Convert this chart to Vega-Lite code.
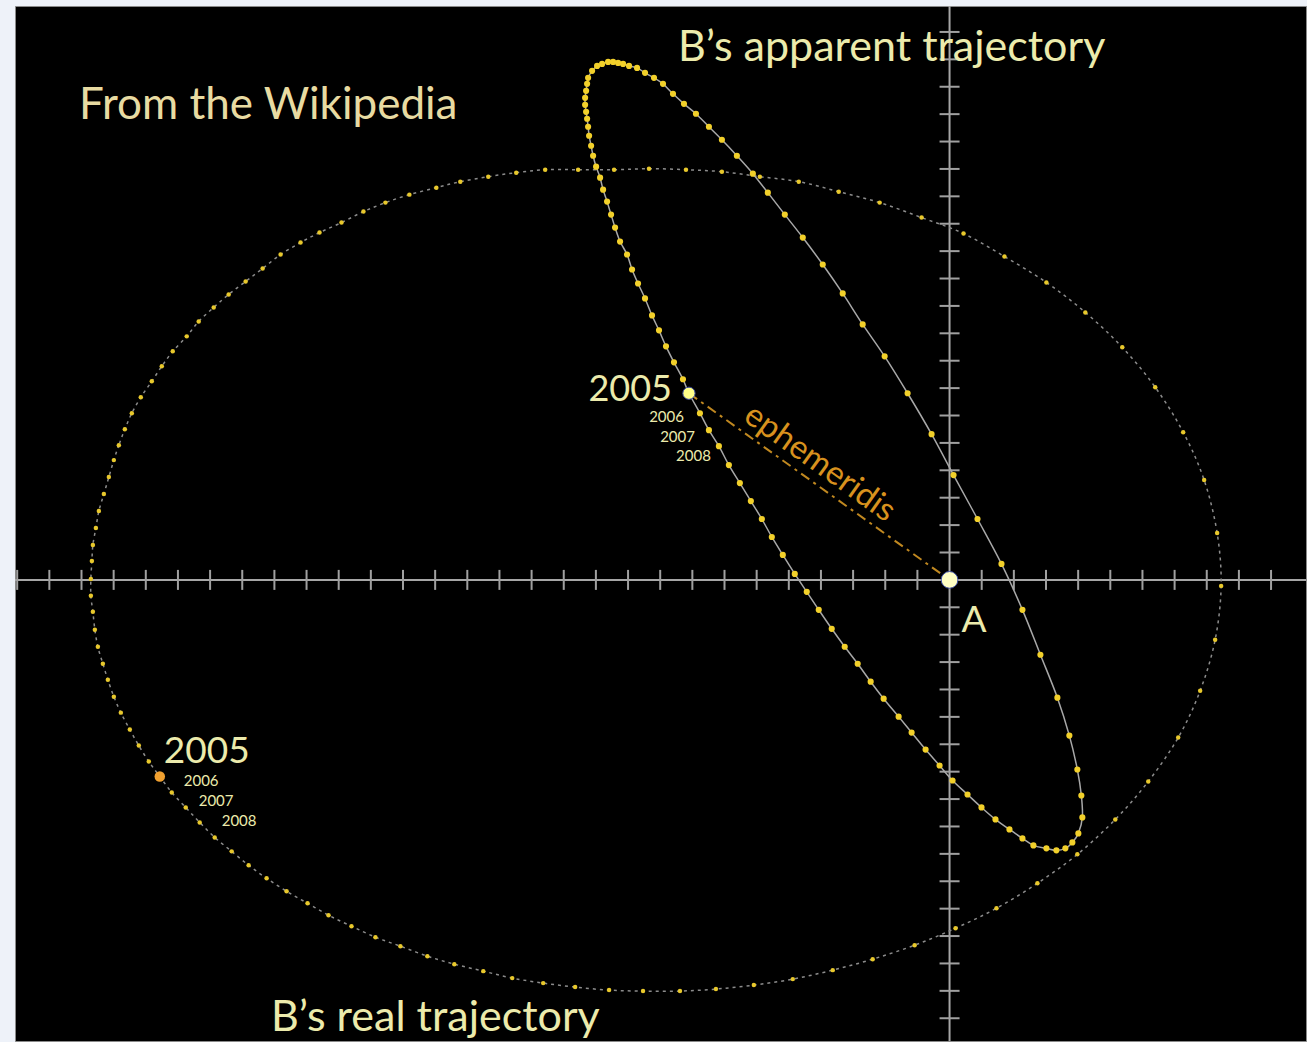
{
  "$schema": "https://vega.github.io/schema/vega-lite/v6.json",
  "width": 1307,
  "height": 1042,
  "autosize": {"type": "fit", "contains": "padding"},
  "padding": {"left": 14, "top": 5, "right": 0, "bottom": 0},
  "background": "#eef2f9",
  "config": {"view": {"fill": "#000000", "stroke": "#8a8a8a", "strokeWidth": 1}},
  "datasets": {
    "real": [
      {"i":1,"x":-826,"y":151},{"i":2,"x":-832,"y":135},{"i":3,"x":-837,"y":120},{"i":4,"x":-842,"y":103},{"i":5,"x":-847,"y":86},
      {"i":6,"x":-852,"y":69},{"i":7,"x":-855,"y":52},{"i":8,"x":-858,"y":35},{"i":9,"x":-859,"y":19},{"i":10,"x":-860,"y":1},
      {"i":11,"x":-860,"y":-16},{"i":12,"x":-858,"y":-32},{"i":13,"x":-856,"y":-50},{"i":14,"x":-853,"y":-67},{"i":15,"x":-848,"y":-84},
      {"i":16,"x":-843,"y":-100},{"i":17,"x":-837,"y":-117},{"i":18,"x":-830,"y":-133},{"i":19,"x":-821,"y":-150},{"i":20,"x":-812,"y":-166},
      {"i":21,"x":-802,"y":-182},{"i":22,"x":-791,"y":-197},{"i":23,"x":-779,"y":-213},{"i":24,"x":-765,"y":-228},{"i":25,"x":-751,"y":-243},
      {"i":26,"x":-736,"y":-258},{"i":27,"x":-719,"y":-272},{"i":28,"x":-702,"y":-286},{"i":29,"x":-684,"y":-299},{"i":30,"x":-664,"y":-312},
      {"i":31,"x":-643,"y":-324},{"i":32,"x":-622,"y":-336},{"i":33,"x":-599,"y":-347},{"i":34,"x":-575,"y":-358},{"i":35,"x":-550,"y":-367},
      {"i":36,"x":-523,"y":-377},{"i":37,"x":-496,"y":-385},{"i":38,"x":-467,"y":-392},{"i":39,"x":-438,"y":-399},{"i":40,"x":-407,"y":-404},
      {"i":41,"x":-375,"y":-408},{"i":42,"x":-341,"y":-411},{"i":43,"x":-307,"y":-412},{"i":44,"x":-270,"y":-412},{"i":45,"x":-234,"y":-410},
      {"i":46,"x":-196,"y":-406},{"i":47,"x":-157,"y":-400},{"i":48,"x":-117,"y":-391},{"i":49,"x":-77,"y":-380},{"i":50,"x":-35,"y":-366},
      {"i":51,"x":6,"y":-349},{"i":52,"x":47,"y":-329},{"i":53,"x":88,"y":-304},{"i":54,"x":128,"y":-275},{"i":55,"x":166,"y":-240},
      {"i":56,"x":199,"y":-202},{"i":57,"x":229,"y":-158},{"i":58,"x":251,"y":-111},{"i":59,"x":266,"y":-60},{"i":60,"x":272,"y":-6},
      {"i":61,"x":268,"y":47},{"i":62,"x":255,"y":100},{"i":63,"x":234,"y":148},{"i":64,"x":206,"y":193},{"i":65,"x":173,"y":233},
      {"i":66,"x":136,"y":268},{"i":67,"x":97,"y":298},{"i":68,"x":55,"y":324},{"i":69,"x":14,"y":347},{"i":70,"x":-28,"y":363},
      {"i":71,"x":-70,"y":378},{"i":72,"x":-111,"y":389},{"i":73,"x":-151,"y":399},{"i":74,"x":-190,"y":404},{"i":75,"x":-228,"y":409},
      {"i":76,"x":-264,"y":411},{"i":77,"x":-301,"y":412},{"i":78,"x":-336,"y":411},{"i":79,"x":-372,"y":411},{"i":80,"x":-405,"y":411},
      {"i":81,"x":-434,"y":408},{"i":82,"x":-462,"y":404},{"i":83,"x":-490,"y":399},{"i":84,"x":-514,"y":393},{"i":85,"x":-541,"y":386},
      {"i":86,"x":-565,"y":378},{"i":87,"x":-587,"y":369},{"i":88,"x":-609,"y":358},{"i":89,"x":-631,"y":348},{"i":90,"x":-650,"y":338},
      {"i":91,"x":-670,"y":326},{"i":92,"x":-688,"y":312},{"i":93,"x":-705,"y":299},{"i":94,"x":-722,"y":286},{"i":95,"x":-737,"y":273},
      {"i":96,"x":-752,"y":259},{"i":97,"x":-764,"y":244},{"i":98,"x":-778,"y":229},{"i":99,"x":-789,"y":214},{"i":100,"x":-799,"y":199},
      {"i":101,"x":-810,"y":183},{"i":102,"x":-819,"y":167}
    ],
    "app": [
      {"i":1,"x":-362,"y":503},{"i":2,"x":-358,"y":510},{"i":3,"x":-353,"y":515},{"i":4,"x":-348,"y":517},{"i":5,"x":-342,"y":519},
      {"i":6,"x":-337,"y":519},{"i":7,"x":-332,"y":518},{"i":8,"x":-327,"y":517},{"i":9,"x":-321,"y":515},{"i":10,"x":-313,"y":513},
      {"i":11,"x":-305,"y":508},{"i":12,"x":-296,"y":503},{"i":13,"x":-287,"y":497},{"i":14,"x":-277,"y":487},{"i":15,"x":-266,"y":477},
      {"i":16,"x":-254,"y":467},{"i":17,"x":-241,"y":454},{"i":18,"x":-228,"y":441},{"i":19,"x":-213,"y":425},{"i":20,"x":-197,"y":407},
      {"i":21,"x":-182,"y":388},{"i":22,"x":-165,"y":366},{"i":23,"x":-147,"y":343},{"i":24,"x":-127,"y":316},{"i":25,"x":-107,"y":287},
      {"i":26,"x":-87,"y":256},{"i":27,"x":-65,"y":224},{"i":28,"x":-42,"y":187},{"i":29,"x":-18,"y":146},{"i":30,"x":4,"y":105},
      {"i":31,"x":28,"y":61},{"i":32,"x":52,"y":16},{"i":33,"x":73,"y":-30},{"i":34,"x":91,"y":-75},{"i":35,"x":108,"y":-118},
      {"i":36,"x":120,"y":-156},{"i":37,"x":128,"y":-190},{"i":38,"x":132,"y":-216},{"i":39,"x":133,"y":-238},{"i":40,"x":129,"y":-254},
      {"i":41,"x":123,"y":-263},{"i":42,"x":116,"y":-269},{"i":43,"x":107,"y":-271},{"i":44,"x":97,"y":-269},{"i":45,"x":84,"y":-266},
      {"i":46,"x":73,"y":-259},{"i":47,"x":60,"y":-250},{"i":48,"x":46,"y":-240},{"i":49,"x":32,"y":-228},{"i":50,"x":18,"y":-215},
      {"i":51,"x":3,"y":-201},{"i":52,"x":-10,"y":-186},{"i":53,"x":-24,"y":-170},{"i":54,"x":-38,"y":-153},{"i":55,"x":-51,"y":-137},
      {"i":56,"x":-66,"y":-119},{"i":57,"x":-79,"y":-102},{"i":58,"x":-92,"y":-84},{"i":59,"x":-105,"y":-67},{"i":60,"x":-118,"y":-49},
      {"i":61,"x":-131,"y":-30},{"i":62,"x":-143,"y":-12},{"i":63,"x":-155,"y":6},{"i":64,"x":-167,"y":25},{"i":65,"x":-178,"y":43},
      {"i":66,"x":-188,"y":61},{"i":67,"x":-199,"y":79},{"i":68,"x":-210,"y":97},{"i":69,"x":-221,"y":115},{"i":70,"x":-231,"y":134},
      {"i":71,"x":-241,"y":150},{"i":72,"x":-250,"y":167},{"i":73,"x":-261,"y":187},{"i":74,"x":-267,"y":201},{"i":75,"x":-276,"y":218},
      {"i":76,"x":-284,"y":234},{"i":77,"x":-291,"y":250},{"i":78,"x":-298,"y":265},{"i":79,"x":-305,"y":282},{"i":80,"x":-312,"y":297},
      {"i":81,"x":-318,"y":311},{"i":82,"x":-323,"y":326},{"i":83,"x":-330,"y":339},{"i":84,"x":-335,"y":353},{"i":85,"x":-339,"y":366},
      {"i":86,"x":-343,"y":379},{"i":87,"x":-347,"y":391},{"i":88,"x":-350,"y":403},{"i":89,"x":-354,"y":414},{"i":90,"x":-357,"y":425},
      {"i":91,"x":-359,"y":435},{"i":92,"x":-361,"y":445},{"i":93,"x":-362,"y":454},{"i":94,"x":-363,"y":462},{"i":95,"x":-364,"y":469},
      {"i":96,"x":-365,"y":476},{"i":97,"x":-365,"y":483},{"i":98,"x":-364,"y":490},{"i":99,"x":-363,"y":497}
    ],
    "hticks": [
      {"v":-933.8},{"v":-901.6},{"v":-869.4},{"v":-837.2},{"v":-805},{"v":-772.8},{"v":-740.6},{"v":-708.4},{"v":-676.2},{"v":-644},
      {"v":-611.8},{"v":-579.6},{"v":-547.4},{"v":-515.2},{"v":-483},{"v":-450.8},{"v":-418.6},{"v":-386.4},{"v":-354.2},{"v":-322},
      {"v":-289.8},{"v":-257.6},{"v":-225.4},{"v":-193.2},{"v":-161},{"v":-128.8},{"v":-96.6},{"v":-64.4},{"v":-32.2},
      {"v":32.2},{"v":64.4},{"v":96.6},{"v":128.8},{"v":161},{"v":193.2},{"v":225.4},{"v":257.6},{"v":289.8},{"v":322}
    ],
    "vticks": [
      {"v":-439.2},{"v":-411.75},{"v":-384.3},{"v":-356.85},{"v":-329.4},{"v":-301.95},{"v":-274.5},{"v":-247.05},{"v":-219.6},{"v":-192.15},
      {"v":-164.7},{"v":-137.25},{"v":-109.8},{"v":-82.35},{"v":-54.9},{"v":-27.45},
      {"v":27.45},{"v":54.9},{"v":82.35},{"v":109.8},{"v":137.25},{"v":164.7},{"v":192.15},{"v":219.6},{"v":247.05},{"v":274.5},
      {"v":301.95},{"v":329.4},{"v":356.85},{"v":384.3},{"v":411.75},{"v":439.2},{"v":466.65},{"v":494.1},{"v":521.55},{"v":549}
    ]
  },
  "layer": [
    {
      "data": {"values": [{}]},
      "mark": {"type": "rule", "color": "#a6a6a6", "strokeWidth": 2},
      "encoding": {"y": {"datum": 0, "type": "quantitative", "scale": {"domain": [-462, 575], "nice": false, "zero": false}, "axis": null}}
    },
    {
      "data": {"values": [{}]},
      "mark": {"type": "rule", "color": "#a6a6a6", "strokeWidth": 2},
      "encoding": {"x": {"datum": 0, "type": "quantitative", "scale": {"domain": [-936, 357], "nice": false, "zero": false}, "axis": null}}
    },
    {
      "data": {"name": "hticks"},
      "mark": {"type": "tick", "orient": "vertical", "size": 20, "thickness": 2, "color": "#a0a0a0", "opacity": 1},
      "encoding": {
        "x": {"field": "v", "type": "quantitative", "scale": {"domain": [-936, 357], "nice": false, "zero": false}, "axis": null},
        "y": {"datum": 0, "type": "quantitative", "scale": {"domain": [-462, 575], "nice": false, "zero": false}, "axis": null}
      }
    },
    {
      "data": {"name": "vticks"},
      "mark": {"type": "tick", "orient": "horizontal", "size": 20, "thickness": 2, "color": "#a0a0a0", "opacity": 1},
      "encoding": {
        "y": {"field": "v", "type": "quantitative", "scale": {"domain": [-462, 575], "nice": false, "zero": false}, "axis": null},
        "x": {"datum": 0, "type": "quantitative", "scale": {"domain": [-936, 357], "nice": false, "zero": false}, "axis": null}
      }
    },
    {
      "data": {"name": "real"},
      "mark": {"type": "line", "interpolate": "cardinal-closed", "color": "#8c8c8c", "strokeWidth": 1.5, "strokeDash": [3, 4]},
      "encoding": {
        "x": {"field": "x", "type": "quantitative", "scale": {"domain": [-936, 357], "nice": false, "zero": false}, "axis": null},
        "y": {"field": "y", "type": "quantitative", "scale": {"domain": [-462, 575], "nice": false, "zero": false}, "axis": null},
        "order": {"field": "i", "type": "quantitative"}
      }
    },
    {
      "data": {"name": "app"},
      "mark": {"type": "line", "interpolate": "cardinal-closed", "color": "#a8a8a8", "strokeWidth": 1.5},
      "encoding": {
        "x": {"field": "x", "type": "quantitative", "scale": {"domain": [-936, 357], "nice": false, "zero": false}, "axis": null},
        "y": {"field": "y", "type": "quantitative", "scale": {"domain": [-462, 575], "nice": false, "zero": false}, "axis": null},
        "order": {"field": "i", "type": "quantitative"}
      }
    },
    {
      "data": {"values": [{"i": 1, "x": -261, "y": 187}, {"i": 2, "x": 0, "y": 0}]},
      "mark": {"type": "line", "color": "#c08820", "strokeWidth": 2, "strokeDash": [10, 5, 3, 5]},
      "encoding": {
        "x": {"field": "x", "type": "quantitative", "scale": {"domain": [-936, 357], "nice": false, "zero": false}, "axis": null},
        "y": {"field": "y", "type": "quantitative", "scale": {"domain": [-462, 575], "nice": false, "zero": false}, "axis": null},
        "order": {"field": "i", "type": "quantitative"}
      }
    },
    {
      "data": {"name": "real"},
      "mark": {"type": "point", "filled": true, "size": 20, "color": "#e8c82c", "opacity": 1, "strokeWidth": 0},
      "encoding": {
        "x": {"field": "x", "type": "quantitative", "scale": {"domain": [-936, 357], "nice": false, "zero": false}, "axis": null},
        "y": {"field": "y", "type": "quantitative", "scale": {"domain": [-462, 575], "nice": false, "zero": false}, "axis": null}
      }
    },
    {
      "data": {"name": "app"},
      "mark": {"type": "point", "filled": true, "size": 38, "color": "#f2d02a", "opacity": 1, "strokeWidth": 0},
      "encoding": {
        "x": {"field": "x", "type": "quantitative", "scale": {"domain": [-936, 357], "nice": false, "zero": false}, "axis": null},
        "y": {"field": "y", "type": "quantitative", "scale": {"domain": [-462, 575], "nice": false, "zero": false}, "axis": null}
      }
    },
    {
      "data": {"values": [{"x": -791, "y": -197}]},
      "mark": {"type": "point", "filled": true, "size": 110, "color": "#f0a030", "opacity": 1, "strokeWidth": 0},
      "encoding": {
        "x": {"field": "x", "type": "quantitative", "scale": {"domain": [-936, 357], "nice": false, "zero": false}, "axis": null},
        "y": {"field": "y", "type": "quantitative", "scale": {"domain": [-462, 575], "nice": false, "zero": false}, "axis": null}
      }
    },
    {
      "data": {"values": [{"x": -261, "y": 187}]},
      "mark": {"type": "point", "filled": true, "size": 150, "fill": "#ffff88", "stroke": "#3a4aa0", "strokeWidth": 1, "opacity": 1},
      "encoding": {
        "x": {"field": "x", "type": "quantitative", "scale": {"domain": [-936, 357], "nice": false, "zero": false}, "axis": null},
        "y": {"field": "y", "type": "quantitative", "scale": {"domain": [-462, 575], "nice": false, "zero": false}, "axis": null}
      }
    },
    {
      "data": {"values": [{"x": 0, "y": 0}]},
      "mark": {"type": "point", "filled": true, "size": 280, "fill": "#ffffc4", "stroke": "#3a4aa0", "strokeWidth": 1, "opacity": 1},
      "encoding": {
        "x": {"field": "x", "type": "quantitative", "scale": {"domain": [-936, 357], "nice": false, "zero": false}, "axis": null},
        "y": {"field": "y", "type": "quantitative", "scale": {"domain": [-462, 575], "nice": false, "zero": false}, "axis": null}
      }
    },
    {
      "data": {"values": [{"t": "From the Wikipedia", "x": -872, "y": 462}]},
      "mark": {"type": "text", "align": "left", "baseline": "alphabetic", "font": "Lato", "fontSize": 44, "color": "#e8dba2"},
      "encoding": {
        "x": {"field": "x", "type": "quantitative", "scale": {"domain": [-936, 357], "nice": false, "zero": false}, "axis": null},
        "y": {"field": "y", "type": "quantitative", "scale": {"domain": [-462, 575], "nice": false, "zero": false}, "axis": null},
        "text": {"field": "t"}
      }
    },
    {
      "data": {"values": [{"t": "B’s apparent trajectory", "x": -58, "y": 520}, {"t": "B’s real trajectory", "x": -515, "y": -452}]},
      "mark": {"type": "text", "align": "center", "baseline": "alphabetic", "font": "Lato", "fontSize": 43, "color": "#ecebac"},
      "encoding": {
        "x": {"field": "x", "type": "quantitative", "scale": {"domain": [-936, 357], "nice": false, "zero": false}, "axis": null},
        "y": {"field": "y", "type": "quantitative", "scale": {"domain": [-462, 575], "nice": false, "zero": false}, "axis": null},
        "text": {"field": "t"}
      }
    },
    {
      "data": {"values": [{"t": "2005", "x": -278, "y": 179}]},
      "mark": {"type": "text", "align": "right", "baseline": "alphabetic", "font": "Lato", "fontSize": 36, "color": "#ecebac"},
      "encoding": {
        "x": {"field": "x", "type": "quantitative", "scale": {"domain": [-936, 357], "nice": false, "zero": false}, "axis": null},
        "y": {"field": "y", "type": "quantitative", "scale": {"domain": [-462, 575], "nice": false, "zero": false}, "axis": null},
        "text": {"field": "t"}
      }
    },
    {
      "data": {"values": [{"t": "2005", "x": -787, "y": -183}, {"t": "A", "x": 12, "y": -52}]},
      "mark": {"type": "text", "align": "left", "baseline": "alphabetic", "font": "Lato", "fontSize": 37, "color": "#ecebac"},
      "encoding": {
        "x": {"field": "x", "type": "quantitative", "scale": {"domain": [-936, 357], "nice": false, "zero": false}, "axis": null},
        "y": {"field": "y", "type": "quantitative", "scale": {"domain": [-462, 575], "nice": false, "zero": false}, "axis": null},
        "text": {"field": "t"}
      }
    },
    {
      "data": {"values": [{"t": "2006", "x": -266, "y": 158}, {"t": "2007", "x": -255, "y": 138}, {"t": "2008", "x": -239, "y": 119}]},
      "mark": {"type": "text", "align": "right", "baseline": "alphabetic", "font": "Lato", "fontSize": 15, "color": "#ecebac"},
      "encoding": {
        "x": {"field": "x", "type": "quantitative", "scale": {"domain": [-936, 357], "nice": false, "zero": false}, "axis": null},
        "y": {"field": "y", "type": "quantitative", "scale": {"domain": [-462, 575], "nice": false, "zero": false}, "axis": null},
        "text": {"field": "t"}
      }
    },
    {
      "data": {"values": [{"t": "2006", "x": -767, "y": -207}, {"t": "2007", "x": -752, "y": -227}, {"t": "2008", "x": -729, "y": -247}]},
      "mark": {"type": "text", "align": "left", "baseline": "alphabetic", "font": "Lato", "fontSize": 15, "color": "#ecebac"},
      "encoding": {
        "x": {"field": "x", "type": "quantitative", "scale": {"domain": [-936, 357], "nice": false, "zero": false}, "axis": null},
        "y": {"field": "y", "type": "quantitative", "scale": {"domain": [-462, 575], "nice": false, "zero": false}, "axis": null},
        "text": {"field": "t"}
      }
    },
    {
      "data": {"values": [{"t": "ephemeridis", "x": -130, "y": 117}]},
      "mark": {"type": "text", "align": "center", "baseline": "middle", "angle": 35.6, "font": "Lato", "fontSize": 33, "color": "#d8921e"},
      "encoding": {
        "x": {"field": "x", "type": "quantitative", "scale": {"domain": [-936, 357], "nice": false, "zero": false}, "axis": null},
        "y": {"field": "y", "type": "quantitative", "scale": {"domain": [-462, 575], "nice": false, "zero": false}, "axis": null},
        "text": {"field": "t"}
      }
    }
  ]
}
